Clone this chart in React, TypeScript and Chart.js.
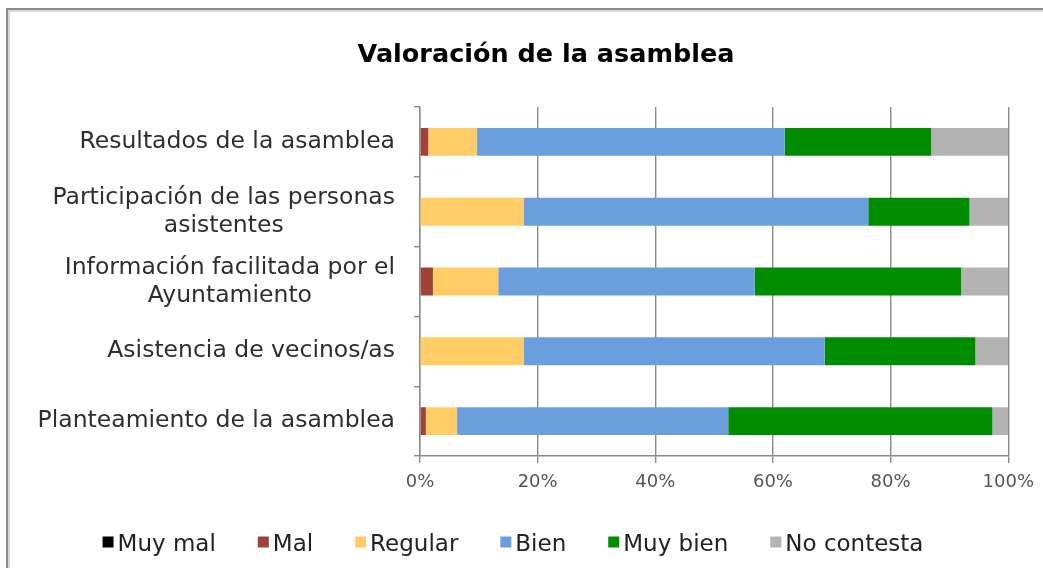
import React, { useEffect, useRef } from "react";
import { Chart, registerables } from "chart.js";

Chart.register(...registerables);

const titleText = "Valoración de la asamblea";

const categories: string[][] = [
  ["Resultados de la asamblea"],
  ["Participación de las personas", "asistentes"],
  ["Información facilitada por el", "Ayuntamiento"],
  ["Asistencia de vecinos/as"],
  ["Planteamiento de la asamblea"],
];

const seriesNames = ["Muy mal", "Mal", "Regular", "Bien", "Muy bien", "No contesta"];
const seriesColors = ["#000000", "#A0413A", "#FFCC66", "#6A9EDC", "#008C00", "#B3B3B3"];

const muyMal = [0, 0, 0, 0, 0];
const mal = [1.4, 0, 2.2, 0, 1.0];
const regular = [8.3, 17.6, 11.1, 17.6, 5.3];
const bien = [52.3, 58.6, 43.6, 51.2, 46.1];
const muyBien = [24.9, 17.2, 35.1, 25.6, 44.9];
const noContesta = [13.1, 6.6, 8.0, 5.6, 2.7];

const xTicks = [0, 20, 40, 60, 80, 100];

const FONT = '"DejaVu Sans", Verdana, sans-serif';

const yLabelPlugin = {
  id: "yLabelsCentered",
  afterDraw(chart: any) {
    const ys = chart.scales.y;
    const ctx = chart.ctx;
    ctx.save();
    ctx.font = `23.5px ${FONT}`;
    ctx.fillStyle = "#2e2e2e";
    ctx.textBaseline = "middle";
    ctx.textAlign = "center";
    const right = ys.right - 25;
    const lineH = 28;
    categories.forEach((lines, i) => {
      const yc = ys.getPixelForValue(i);
      const w = Math.max(...lines.map((l) => ctx.measureText(l).width));
      const cx = right - w / 2;
      lines.forEach((l, j) => {
        ctx.fillText(l, cx, yc + (j - (lines.length - 1) / 2) * lineH);
      });
    });
    ctx.restore();
  },
};

const titleLegendPlugin = {
  id: "titleAndLegend",
  afterDraw(chart: any) {
    const ctx = chart.ctx;
    ctx.save();
    // title
    ctx.font = `bold 25.5px ${FONT}`;
    ctx.fillStyle = "#000000";
    ctx.textAlign = "center";
    ctx.textBaseline = "middle";
    ctx.fillText(titleText, 546, 55);
    // legend
    ctx.font = `23px ${FONT}`;
    ctx.textAlign = "left";
    const box = 11;
    const gapBoxText = 4;
    const gapItems = 42;
    const items = chart.data.datasets.map((ds: any) => ({
      text: ds.label,
      color: ds.backgroundColor,
      w: box + gapBoxText + ctx.measureText(ds.label).width,
    }));
    const total =
      items.reduce((s: number, it: any) => s + it.w, 0) + gapItems * (items.length - 1);
    let x = 513 - total / 2;
    const yc = 545;
    items.forEach((it: any) => {
      ctx.fillStyle = it.color;
      ctx.fillRect(x, yc - 3 - box / 2, box, box);
      ctx.fillStyle = "#222222";
      ctx.fillText(it.text, x + box + gapBoxText, yc);
      x += it.w + gapItems;
    });
    ctx.restore();
  },
};

export default function App() {
  const ref = useRef<HTMLCanvasElement | null>(null);

  useEffect(() => {
    if (!ref.current) return;
    const data = [muyMal, mal, regular, bien, muyBien, noContesta];
    const chart = new Chart(ref.current, {
      type: "bar",
      data: {
        labels: categories.map((c) => c.join(" ")),
        datasets: seriesNames.map((name, i) => ({
          label: name,
          data: data[i],
          backgroundColor: seriesColors[i],
          borderWidth: 0,
          categoryPercentage: 0.4,
          barPercentage: 1,
        })),
      },
      options: {
        indexAxis: "y",
        responsive: false,
        animation: false,
        layout: { padding: { left: 0, right: 33, top: 107, bottom: 70 } },
        scales: {
          x: {
            stacked: true,
            min: 0,
            max: 100,
            afterBuildTicks: (scale: any) => {
              scale.ticks = xTicks.map((v) => ({ value: v }));
            },
            afterFit: (scale: any) => {
              scale.height = 42;
            },
            ticks: {
              callback: (v: any) => `${v}%`,
              font: { family: FONT, size: 18 },
              color: "#555555",
              padding: 9,
            },
            grid: {
              color: "#8a8a8a",
              lineWidth: 1.4,
              drawTicks: true,
              tickLength: 7,
            },
            border: { display: true, color: "#8a8a8a", width: 1.4 },
          },
          y: {
            stacked: true,
            afterFit: (scale: any) => {
              scale.width = 420;
            },
            ticks: { display: false },
            grid: {
              drawOnChartArea: false,
              drawTicks: true,
              tickLength: 6,
              offset: true,
              color: "#8a8a8a",
              lineWidth: 1.4,
            },
            border: { display: true, color: "#8a8a8a", width: 1.4 },
          },
        },
        plugins: {
          title: { display: false },
          legend: { display: false },
          tooltip: { enabled: false },
        },
      },
      plugins: [yLabelPlugin, titleLegendPlugin],
    });
    return () => chart.destroy();
  }, []);

  return (
    <div
      style={{
        position: "fixed",
        left: 0,
        top: 0,
        width: 1043,
        height: 568,
        background: "#ffffff",
      }}
    >
      <div
        style={{
          position: "absolute",
          left: 6,
          top: 8,
          right: 0,
          bottom: 0,
          borderLeft: "2px solid #8a8a8a",
          borderTop: "2px solid #8a8a8a",
          boxShadow: "inset 2px 2px 0 #d8d8d8",
          pointerEvents: "none",
        }}
      />
      <canvas
        ref={ref}
        width={1043}
        height={568}
        style={{ position: "absolute", left: 0, top: 0, display: "block" }}
      />
    </div>
  );
}
